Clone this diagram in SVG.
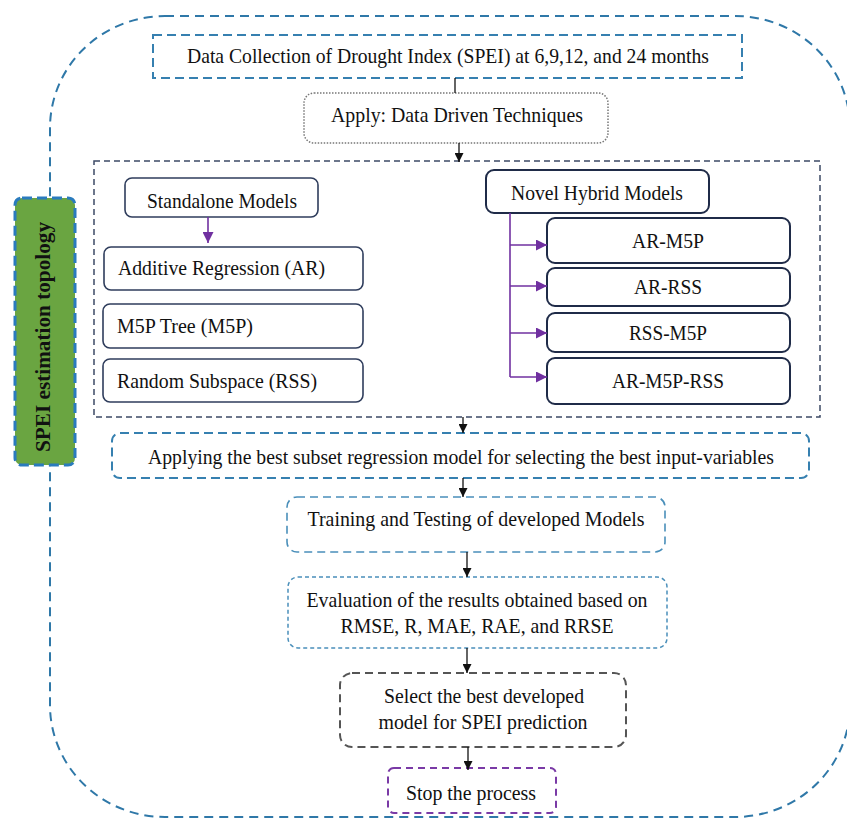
<svg xmlns="http://www.w3.org/2000/svg" width="847" height="818" viewBox="0 0 847 818">
<defs>
<marker id="ab" viewBox="0 0 10 10" refX="10" refY="5" markerWidth="9" markerHeight="9" markerUnits="userSpaceOnUse" orient="auto"><path d="M0,0 L10,5 L0,10 z" fill="#111"/></marker>
<marker id="ap" viewBox="0 0 10 10" refX="10" refY="5" markerWidth="11" markerHeight="11" markerUnits="userSpaceOnUse" orient="auto"><path d="M0,0 L10,5 L0,10 z" fill="#7030a0"/></marker>
<style>
text{font-family:"Liberation Serif","Times New Roman",serif;font-size:21px;fill:#111}
.c{text-anchor:middle}
.solid{fill:#fff;stroke:#2f3d5c;stroke-width:1.6}
.hyb{fill:#fff;stroke:#1f2b48;stroke-width:2}
.blk{stroke:#111;stroke-width:1.3;fill:none}
.pur{stroke:#7030a0;stroke-width:1.6;fill:none}
</style>
</defs>
<rect width="847" height="818" fill="#fff"/>
<g id="outer">
<rect x="50" y="16" width="800" height="801" rx="115" ry="112" fill="none" stroke="#2f78a8" stroke-width="2" stroke-dasharray="9,6"/>
</g>
<g id="topology">
<rect x="15" y="198" width="60" height="267" rx="7" fill="#6aa541" stroke="#2a7bbd" stroke-width="3" stroke-dasharray="10,5"/>
<text transform="translate(50,337) rotate(-90)" class="c" style="font-weight:bold" textLength="230" lengthAdjust="spacingAndGlyphs">SPEI estimation topology</text>
</g>
<g id="data-collection">
<rect x="153" y="35" width="589" height="43" fill="#fff" stroke="#3680b0" stroke-width="2" stroke-dasharray="9,5"/>
<text x="448" y="63" class="c" style="font-size:22px" textLength="522" lengthAdjust="spacingAndGlyphs">Data Collection of Drought Index (SPEI) at 6,9,12, and 24 months</text>
</g>
<g id="apply">
<rect x="304" y="93" width="304" height="50" rx="10" fill="#fff" stroke="#777" stroke-width="1.5" stroke-dasharray="1.5,1.5"/>
<text x="457" y="122" class="c" textLength="252" lengthAdjust="spacingAndGlyphs">Apply: Data Driven Techniques</text>
</g>
<g id="models-group">
<rect x="94" y="161" width="726" height="256" fill="none" stroke="#3c4a66" stroke-width="1.5" stroke-dasharray="6,4"/>
</g>
<g id="standalone">
<rect class="solid" x="125" y="178" width="193" height="39" rx="7"/>
<text x="222" y="208" class="c" textLength="150" lengthAdjust="spacingAndGlyphs">Standalone Models</text>
</g>
<g id="ar">
<rect class="solid" x="104" y="247" width="259" height="43" rx="7"/>
<text x="118" y="275" textLength="207" lengthAdjust="spacingAndGlyphs">Additive Regression (AR)</text>
</g>
<g id="m5p">
<rect class="solid" x="103" y="304" width="260" height="44" rx="7"/>
<text x="117" y="333" textLength="136" lengthAdjust="spacingAndGlyphs">M5P Tree (M5P)</text>
</g>
<g id="rss">
<rect class="solid" x="103" y="359" width="260" height="43" rx="7"/>
<text x="117" y="388" textLength="200" lengthAdjust="spacingAndGlyphs">Random Subspace (RSS)</text>
</g>
<g id="hybrid">
<rect class="hyb" x="486" y="170" width="223" height="43" rx="8"/>
<text x="597" y="200" class="c" textLength="172" lengthAdjust="spacingAndGlyphs">Novel Hybrid Models</text>
</g>
<g id="ar-m5p">
<rect class="hyb" x="547" y="218" width="243" height="45" rx="8"/>
<text x="668" y="248" class="c" textLength="72" lengthAdjust="spacingAndGlyphs">AR-M5P</text>
</g>
<g id="ar-rss">
<rect class="hyb" x="547" y="268" width="243" height="38" rx="8"/>
<text x="668" y="294" class="c" textLength="68" lengthAdjust="spacingAndGlyphs">AR-RSS</text>
</g>
<g id="rss-m5p">
<rect class="hyb" x="547" y="313" width="243" height="39" rx="8"/>
<text x="668" y="340" class="c" textLength="78" lengthAdjust="spacingAndGlyphs">RSS-M5P</text>
</g>
<g id="ar-m5p-rss">
<rect class="hyb" x="547" y="358" width="243" height="46" rx="8"/>
<text x="668" y="388" class="c" textLength="112" lengthAdjust="spacingAndGlyphs">AR-M5P-RSS</text>
</g>
<g id="subset">
<rect x="112" y="433" width="697" height="45" rx="8" fill="#fff" stroke="#3680b0" stroke-width="2" stroke-dasharray="9,5"/>
<text x="461" y="464" class="c" textLength="626" lengthAdjust="spacingAndGlyphs">Applying the best subset regression model for selecting the best input-variables</text>
</g>
<g id="training">
<rect x="287" y="497" width="378" height="55" rx="10" fill="#fff" stroke="#4a8fba" stroke-width="1.6" stroke-dasharray="8,5"/>
<text x="476" y="526" class="c" textLength="337" lengthAdjust="spacingAndGlyphs">Training and Testing of developed Models</text>
</g>
<g id="evaluation">
<rect x="288" y="577" width="379" height="71" rx="10" fill="#fff" stroke="#4a8fba" stroke-width="1.5" stroke-dasharray="4,3"/>
<text x="477" y="607" class="c" textLength="341" lengthAdjust="spacingAndGlyphs">Evaluation of the results obtained based on</text>
<text x="477" y="633" class="c" textLength="273" lengthAdjust="spacingAndGlyphs">RMSE, R, MAE, RAE, and RRSE</text>
</g>
<g id="select">
<rect x="340" y="673" width="286" height="74" rx="12" fill="#fff" stroke="#555" stroke-width="2" stroke-dasharray="8,5"/>
<text x="484" y="703" class="c" textLength="200" lengthAdjust="spacingAndGlyphs">Select the best developed</text>
<text x="483" y="729" class="c" textLength="209" lengthAdjust="spacingAndGlyphs">model for SPEI prediction</text>
</g>
<g id="stop">
<rect x="388" y="768" width="168" height="45" rx="6" fill="#fff" stroke="#7a3aa6" stroke-width="2" stroke-dasharray="7,5"/>
<text x="471" y="800" class="c" textLength="130" lengthAdjust="spacingAndGlyphs">Stop the process</text>
</g>
<g id="connectors">
<path class="blk" d="M455,78 V93"/>
<path class="blk" d="M459,143 V162" marker-end="url(#ab)"/>
<path class="pur" d="M208,217 V243" marker-end="url(#ap)"/>
<path class="pur" d="M510,213 V377"/>
<path class="pur" d="M510,245 H547" marker-end="url(#ap)"/>
<path class="pur" d="M510,286 H547" marker-end="url(#ap)"/>
<path class="pur" d="M510,333 H547" marker-end="url(#ap)"/>
<path class="pur" d="M510,377 H547" marker-end="url(#ap)"/>
<path class="blk" d="M463,417 V433" marker-end="url(#ab)"/>
<path class="blk" d="M463,478 V497" marker-end="url(#ab)"/>
<path class="blk" d="M467,552 V577" marker-end="url(#ab)"/>
<path class="blk" d="M467,648 V673" marker-end="url(#ab)"/>
<path class="blk" d="M468,747 V770" marker-end="url(#ab)"/>
</g>
</svg>
